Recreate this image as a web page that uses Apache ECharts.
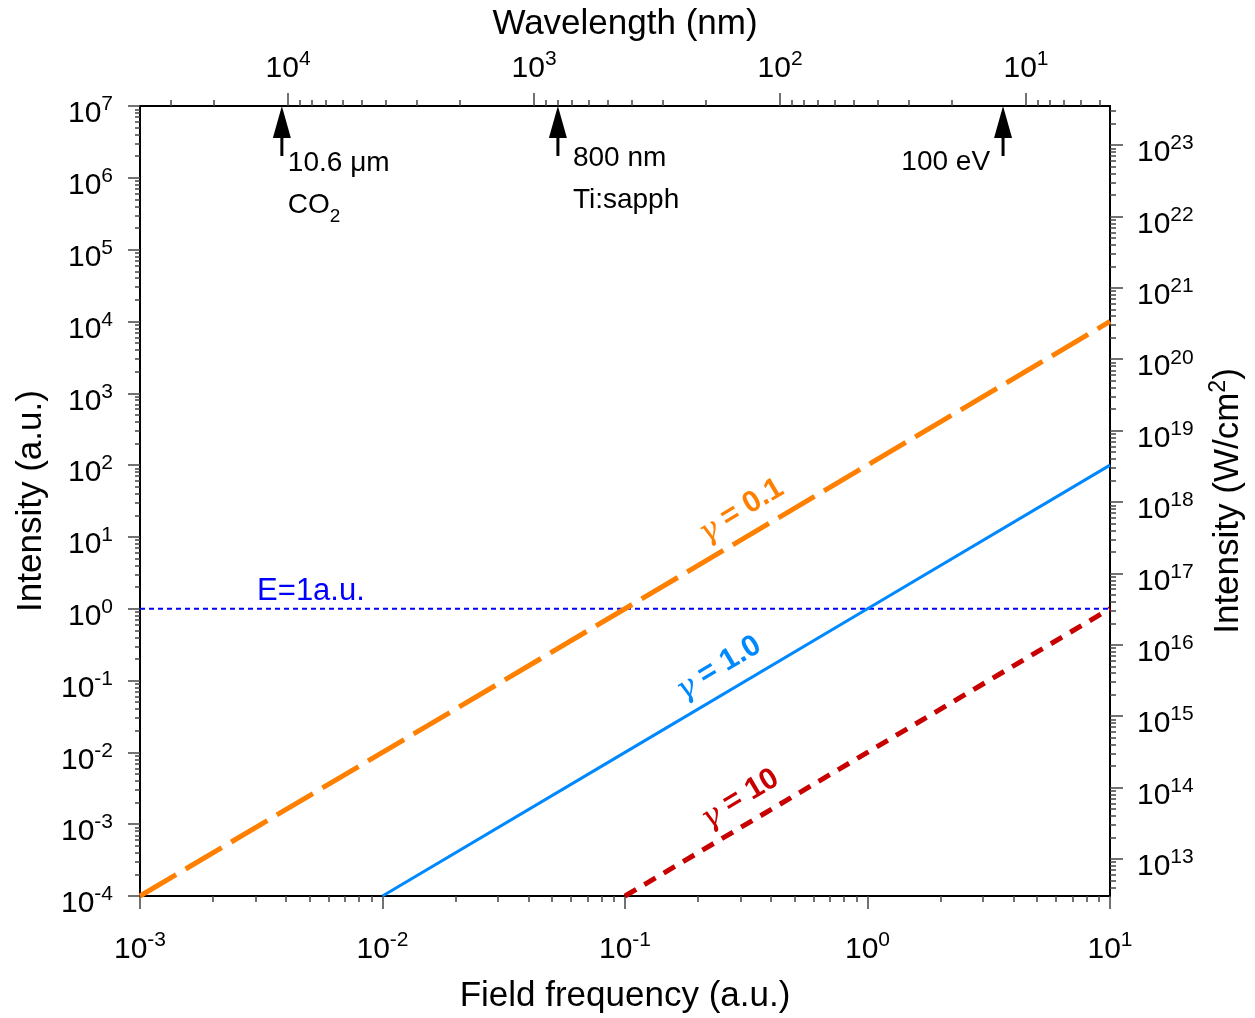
<!DOCTYPE html>
<html>
<head>
<meta charset="utf-8">
<script src="https://cdn.jsdelivr.net/npm/echarts@6/dist/echarts.min.js"></script>
<style>
  html, body { margin: 0; padding: 0; background: #fff; }
  #chart { width: 1255px; height: 1018px; }
</style>
</head>
<body>
<div id="chart"></div>
<script>
// Field frequency (a.u.)
const frequency = [1e-3, 1e-2, 1e-1, 1e0, 1e1];
// Intensity (a.u.) along lines of constant Keldysh parameter
const intensityGamma01 = [1e-4, 1e-2, 1e0, 1e2, 1e4];
const intensityGamma1 = [null, 1e-4, 1e-2, 1e0, 1e2];
const intensityGamma10 = [null, null, 1e-4, 1e-2, 1e0];
// Field strength of one atomic unit
const unitFieldFrequency = [1e-3, 1e1];
const unitFieldIntensity = [1, 1];

// Axis ranges
const frequencyRange = [1e-3, 1e1];
const intensityRange = [1e-4, 1e7];
const wavelengthRange = [4.556, 4.0e4];
const intensityWcm2Range = [3.03e12, 3.52e23];

// Major tick values
const frequencyTicks = [1e-3, 1e-2, 1e-1, 1e0, 1e1];
const intensityTicks = [1e-4, 1e-3, 1e-2, 1e-1, 1e0, 1e1, 1e2, 1e3, 1e4, 1e5, 1e6, 1e7];
const wavelengthTicks = [1e1, 1e2, 1e3, 1e4];
const intensityWcm2Ticks = [1e13, 1e14, 1e15, 1e16, 1e17, 1e18, 1e19, 1e20, 1e21, 1e22, 1e23];

// Laser sources marked on the wavelength axis (nm)
const sourceWavelength = [10600, 800, 12.398];
const sourceLabel = ['{t|10.6 \u03bcm}\n{t|CO}{sub|2}', '{t|800 nm}\n{t|Ti:sapph}', '{t|100 eV}'];

// Curve annotations: anchor points on each line (frequency, intensity)
const gammaLabelValue = ['0.1', '1.0', '10'];
const gammaLabelFrequency = [0.34, 0.274, 0.336];
const gammaLabelIntensity = [11.6, 0.075, 1.13e-3];
const unitFieldLabelText = 'E=1a.u.';
const unitFieldLabelFrequency = 5.07e-3;

const FONT = "'Liberation Sans', Arial, Helvetica, sans-serif";
const COLORS = { g01: '#FF8000', g1: '#0088FF', g10: '#C80000', unit: '#0000FF' };

function minorValues(lo, hi) {
  const out = [];
  for (let k = Math.floor(Math.log10(lo)); k <= Math.ceil(Math.log10(hi)); k++) {
    for (let m = 2; m <= 9; m++) {
      const v = m * Math.pow(10, k);
      if (v > lo && v < hi) out.push(v);
    }
  }
  return out;
}

function pairs(xs, ys) {
  return xs.map((x, i) => [x, ys[i]]).filter(p => p[1] != null);
}

function powerLabel(v) {
  return '{b|10}{e|' + Math.round(Math.log10(v)) + '}';
}
const powerRich = {
  b: { fontSize: 30, lineHeight: 40, color: '#000', fontFamily: FONT },
  e: { fontSize: 21, lineHeight: 21, verticalAlign: 'top', color: '#000', fontFamily: FONT }
};

const axisLine = { show: true, onZero: false, lineStyle: { color: '#000', width: 2 } };
const tickStyle = { color: '#444', width: 1.5 };
const nameStyle = { fontSize: 35, color: '#000', fontFamily: FONT };

function majorAxis(extra) {
  return Object.assign({
    type: 'log', logBase: 10, gridIndex: 0,
    axisLine: axisLine,
    splitLine: { show: false },
    minorTick: { show: false },
    minorSplitLine: { show: false },
    nameTextStyle: nameStyle
  }, extra);
}
function minorAxis(extra) {
  return Object.assign({
    type: 'log', logBase: 10, gridIndex: 0,
    axisLine: { show: false, onZero: false },
    axisLabel: { show: false },
    splitLine: { show: false },
    minorTick: { show: false },
    minorSplitLine: { show: false }
  }, extra);
}

const option = {
  animation: false,
  backgroundColor: '#fff',
  textStyle: { fontFamily: FONT },
  grid: { left: 140, right: 145, top: 106, bottom: 122, containLabel: false, outerBoundsMode: 'none' },
  xAxis: [
    majorAxis({
      position: 'bottom', min: frequencyRange[0], max: frequencyRange[1],
      axisTick: { show: true, inside: false, length: 13, customValues: frequencyTicks, lineStyle: tickStyle },
      axisLabel: { show: true, customValues: frequencyTicks, formatter: powerLabel, rich: powerRich, margin: 34 },
      name: 'Field frequency (a.u.)', nameLocation: 'middle', nameGap: 83
    }),
    minorAxis({
      position: 'bottom', min: frequencyRange[0], max: frequencyRange[1],
      axisTick: { show: true, inside: false, length: 6, customValues: minorValues(frequencyRange[0], frequencyRange[1]), lineStyle: tickStyle }
    }),
    majorAxis({
      position: 'top', inverse: true, min: wavelengthRange[0], max: wavelengthRange[1],
      axisTick: { show: true, inside: false, length: 13, customValues: wavelengthTicks, lineStyle: tickStyle },
      axisLabel: { show: true, customValues: wavelengthTicks, formatter: powerLabel, rich: powerRich, margin: 17 },
      name: 'Wavelength (nm)', nameLocation: 'middle', nameGap: 64
    }),
    minorAxis({
      position: 'top', inverse: true, min: wavelengthRange[0], max: wavelengthRange[1],
      axisTick: { show: true, inside: false, length: 6, customValues: minorValues(wavelengthRange[0], wavelengthRange[1]), lineStyle: tickStyle }
    })
  ],
  yAxis: [
    majorAxis({
      position: 'left', min: intensityRange[0], max: intensityRange[1],
      axisTick: { show: true, inside: false, length: 12, customValues: intensityTicks, lineStyle: tickStyle },
      axisLabel: { show: true, customValues: intensityTicks, formatter: powerLabel, rich: powerRich, margin: 27, padding: [16, 0, 0, 0] },
      name: 'Intensity (a.u.)', nameLocation: 'middle', nameGap: 91
    }),
    minorAxis({
      position: 'left', min: intensityRange[0], max: intensityRange[1],
      axisTick: { show: true, inside: false, length: 5, customValues: minorValues(intensityRange[0], intensityRange[1]), lineStyle: tickStyle }
    }),
    majorAxis({
      position: 'right', min: intensityWcm2Range[0], max: intensityWcm2Range[1],
      axisTick: { show: true, inside: false, length: 13, customValues: intensityWcm2Ticks, lineStyle: tickStyle },
      axisLabel: { show: true, customValues: intensityWcm2Ticks, formatter: powerLabel, rich: powerRich, margin: 27, padding: [16, 0, 0, 0] },
      name: '{a|Intensity (W/cm}{s|2}{a|)}', nameLocation: 'middle', nameGap: 97,
      nameTextStyle: {
        rich: {
          a: { fontSize: 35, lineHeight: 42, color: '#000', fontFamily: FONT },
          s: { fontSize: 23, lineHeight: 23, verticalAlign: 'top', color: '#000', fontFamily: FONT }
        }
      }
    }),
    minorAxis({
      position: 'right', min: intensityWcm2Range[0], max: intensityWcm2Range[1],
      axisTick: { show: true, inside: false, length: 6, customValues: minorValues(intensityWcm2Range[0], intensityWcm2Range[1]), lineStyle: tickStyle }
    })
  ],
  series: [
    {
      name: 'E = 1 a.u.', type: 'line', xAxisIndex: 0, yAxisIndex: 0,
      data: pairs(unitFieldFrequency, unitFieldIntensity),
      showSymbol: false, silent: true,
      lineStyle: { color: COLORS.unit, width: 2, type: [5, 4] }
    },
    {
      name: 'gamma 0.1', type: 'line', xAxisIndex: 0, yAxisIndex: 0,
      data: pairs(frequency, intensityGamma01),
      showSymbol: false, silent: true,
      lineStyle: { color: COLORS.g01, width: 5, type: [42, 11], cap: 'butt' }
    },
    {
      name: 'gamma 1.0', type: 'line', xAxisIndex: 0, yAxisIndex: 0,
      data: pairs(frequency, intensityGamma1),
      showSymbol: false, silent: true,
      lineStyle: { color: COLORS.g1, width: 3 }
    },
    {
      name: 'gamma 10', type: 'line', xAxisIndex: 0, yAxisIndex: 0,
      data: pairs(frequency, intensityGamma10),
      showSymbol: false, silent: true,
      lineStyle: { color: COLORS.g10, width: 5, type: [13, 9.5], cap: 'butt' }
    },
    {
      // rotated labels along the constant-gamma lines, and the E = 1 a.u. label
      name: 'line labels', type: 'custom', xAxisIndex: 0, yAxisIndex: 0, silent: true, clip: false,
      data: gammaLabelFrequency.map((f, i) => [f, gammaLabelIntensity[i], i]).concat([[unitFieldLabelFrequency, 1, -1]]),
      renderItem: function (params, api) {
        const idx = api.value(2);
        const p = api.coord([api.value(0), api.value(1)]);
        if (idx < 0) {
          return {
            type: 'text', x: p[0], y: p[1] - 17,
            style: { text: unitFieldLabelText, fill: COLORS.unit, font: '31px ' + FONT, align: 'center', verticalAlign: 'middle' }
          };
        }
        const a = api.coord([1, 1]);
        const b = api.coord([10, 100]);
        const ang = Math.atan2(a[1] - b[1], b[0] - a[0]);
        const off = 26;
        const colors = [COLORS.g01, COLORS.g1, COLORS.g10];
        const c = colors[idx];
        return {
          type: 'text',
          x: p[0] - off * Math.sin(ang),
          y: p[1] - off * Math.cos(ang),
          rotation: ang,
          style: {
            text: '{g|\u03b3}{n| = ' + gammaLabelValue[idx] + '}',
            align: 'center', verticalAlign: 'middle',
            rich: {
              g: { fontSize: 31, lineHeight: 36, fill: c, fontFamily: "'DejaVu Serif', serif", fontStyle: 'italic', padding: [6, 0, 0, 0] },
              n: { fontSize: 30, lineHeight: 36, fill: c, fontWeight: 'bold', fontFamily: FONT }
            }
          }
        };
      }
    },
    {
      // arrows marking laser sources on the wavelength axis
      name: 'sources', type: 'custom', xAxisIndex: 2, yAxisIndex: 0, silent: true, clip: false,
      data: sourceWavelength.map((w, i) => [w, intensityRange[1], i]),
      renderItem: function (params, api) {
        const idx = api.value(2);
        const p = api.coord([api.value(0), api.value(1)]);
        const x = p[0], y = p[1];
        const layout = [
          { dx: 6, dy: 36, align: 'left', verticalAlign: 'top' },
          { dx: 15, dy: 31, align: 'left', verticalAlign: 'top' },
          { dx: -13, dy: 56, align: 'right', verticalAlign: 'middle' }
        ][idx];
        return {
          type: 'group',
          children: [
            { type: 'polygon', shape: { points: [[x, y], [x - 9, y + 32], [x + 9, y + 32]] }, style: { fill: '#000' } },
            { type: 'line', shape: { x1: x, y1: y + 30, x2: x, y2: y + 50 }, style: { stroke: '#000', lineWidth: 3 } },
            {
              type: 'text', x: x + layout.dx, y: y + layout.dy,
              style: {
                text: sourceLabel[idx], align: layout.align, verticalAlign: layout.verticalAlign,
                rich: {
                  t: { fontSize: 28, lineHeight: 42, fill: '#000', fontFamily: FONT },
                  sub: { fontSize: 19, lineHeight: 19, verticalAlign: 'bottom', fill: '#000', fontFamily: FONT }
                }
              }
            }
          ]
        };
      }
    }
  ]
};

const chart = echarts.init(document.getElementById('chart'));
chart.setOption(option);
</script>
</body>
</html>
